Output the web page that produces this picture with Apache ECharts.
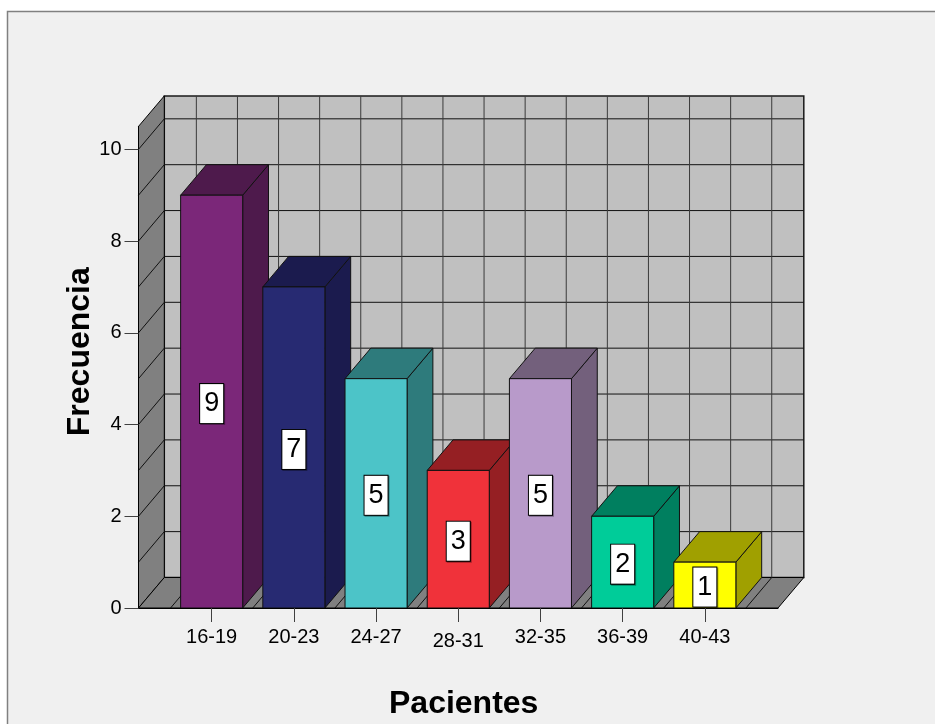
<!DOCTYPE html>
<html>
<head>
<meta charset="utf-8">
<script src="https://cdn.jsdelivr.net/npm/echarts@6/dist/echarts.min.js"></script>
<style>
  html, body { margin: 0; padding: 0; background: #ffffff; }
  #chart { width: 935px; height: 724px; }
</style>
</head>
<body>
<div id="chart"></div>
<script>
// Age groups of the patients and how many fall in each one
const categories = ['16-19', '20-23', '24-27', '28-31', '32-35', '36-39', '40-43'];
const frequencies = [9, 7, 5, 3, 5, 2, 1];
const yTickValues = [0, 2, 4, 6, 8, 10];

// Face colours of each bar: front face, and the darker top / side faces
const frontColors = ['#7B2779', '#272A72', '#4CC4C8', '#F0323A', '#B89ACA', '#00CC99', '#FFFF00'];
const shadeColors = ['#4E1A4C', '#1B1B4E', '#2E7B7C', '#951F23', '#73607C', '#007F5F', '#A0A000'];

// Axis extents and the oblique projection used for the 3D look
const X_MIN = -0.89, X_MAX = 6.89, Y_MAX = 10.5;
const DEPTH_X = 25.8, DEPTH_Y = -30.5;
const BAR_WIDTH = 0.755;
const FONT = '"Liberation Sans", Arial, Helvetica, sans-serif';

const back = pt => [pt[0] + DEPTH_X, pt[1] + DEPTH_Y];
const line = (a, b, color) => ({
  type: 'line',
  shape: { x1: a[0], y1: a[1], x2: b[0], y2: b[1] },
  style: { stroke: color, lineWidth: 1 }
});

// Back wall, left wall and floor with their grid lines
function renderWalls(params, api) {
  const p = (x, y) => api.coord([x, y]);
  const f00 = p(X_MIN, 0), f10 = p(X_MAX, 0);
  const f01 = p(X_MIN, Y_MAX), f11 = p(X_MAX, Y_MAX);
  const children = [];
  children.push({
    type: 'polygon',
    shape: { points: [back(f00), back(f10), back(f11), back(f01)] },
    style: { fill: '#C0C0C0', stroke: '#1a1a1a', lineWidth: 1.5 }
  });
  children.push({
    type: 'polygon',
    shape: { points: [f00, back(f00), back(f01), f01] },
    style: { fill: '#808080', stroke: '#000', lineWidth: 1 }
  });
  children.push({
    type: 'polygon',
    shape: { points: [f00, f10, back(f10), back(f00)] },
    style: { fill: '#808080', stroke: '#000', lineWidth: 1 }
  });
  // value grid: horizontal on the back wall, diagonal on the left wall
  for (let v = 1; v <= Math.floor(Y_MAX); v++) {
    const a = p(X_MIN, v), b = p(X_MAX, v);
    children.push(line(back(a), back(b), '#111'));
    children.push(line(a, back(a), '#111'));
  }
  // category grid: vertical on the back wall, diagonal on the floor
  for (let k = 0; k <= 2 * categories.length; k++) {
    const x = -0.5 + k / 2;
    const a = p(x, 0), t = p(x, Y_MAX);
    children.push(line(back(a), back(t), '#3a3a3a'));
    children.push(line(a, back(a), '#111'));
  }
  return { type: 'group', children };
}

// One box per category: front face, top face, side face and its value tag
function renderBar(params, api) {
  const i = api.value(0), v = api.value(1);
  const base = api.coord([i, 0]);
  const top = api.coord([i, v]);
  const half = api.size([BAR_WIDTH, 0])[0] / 2;
  const xl = base[0] - half, xr = base[0] + half;
  const yb = base[1], yt = top[1];
  const edge = { stroke: '#111', lineWidth: 1 };
  const mid = api.coord([i, v / 2]);
  return {
    type: 'group',
    children: [
      {
        type: 'polygon',
        shape: { points: [[xr, yb], back([xr, yb]), back([xr, yt]), [xr, yt]] },
        style: Object.assign({ fill: shadeColors[i] }, edge)
      },
      {
        type: 'polygon',
        shape: { points: [[xl, yt], [xr, yt], back([xr, yt]), back([xl, yt])] },
        style: Object.assign({ fill: shadeColors[i] }, edge)
      },
      {
        type: 'rect',
        shape: { x: xl, y: yt, width: xr - xl, height: yb - yt },
        style: Object.assign({ fill: frontColors[i] }, edge)
      },
      {
        type: 'text',
        x: mid[0],
        y: mid[1] + 2,
        style: {
          text: String(v),
          font: '27px ' + FONT,
          fill: '#000',
          align: 'center',
          verticalAlign: 'middle',
          lineHeight: 31,
          backgroundColor: '#ffffff',
          borderColor: '#000',
          borderWidth: 1,
          padding: [4, 4, 4, 4],
          shadowColor: 'rgba(0,0,0,0.35)',
          shadowOffsetX: 1,
          shadowOffsetY: 1
        }
      }
    ]
  };
}

const chart = echarts.init(document.getElementById('chart'), null, { renderer: 'canvas' });

const categoryIndexes = categories.map((_, i) => i);

chart.setOption({
  backgroundColor: '#ffffff',
  animation: false,
  grid: { left: 138.5, right: 157, top: 126.4, bottom: 116 },
  xAxis: {
    type: 'value',
    min: X_MIN,
    max: X_MAX,
    z: 5,
    axisLine: { show: true, onZero: false, lineStyle: { color: '#000', width: 1 } },
    axisTick: {
      show: true,
      customValues: categoryIndexes,
      length: 14,
      lineStyle: { color: '#404040' }
    },
    axisLabel: {
      customValues: categoryIndexes,
      formatter: v => {
        const name = categories[Math.round(v)];
        return name === '28-31' ? '{low|' + name + '}' : name;
      },
      margin: 19,
      fontSize: 20,
      fontFamily: FONT,
      color: '#000',
      rich: { low: { fontSize: 20, fontFamily: FONT, color: '#000', lineHeight: 28 } }
    },
    splitLine: { show: false }
  },
  yAxis: {
    type: 'value',
    min: 0,
    max: Y_MAX,
    z: 5,
    axisLine: { show: true, onZero: false, lineStyle: { color: '#000', width: 1 } },
    axisTick: {
      show: true,
      customValues: yTickValues,
      length: 14,
      lineStyle: { color: '#404040' }
    },
    axisLabel: {
      customValues: yTickValues,
      margin: 17,
      fontSize: 20,
      fontFamily: FONT,
      color: '#000'
    },
    splitLine: { show: false }
  },
  graphic: [
    {
      type: 'rect',
      z: -10,
      silent: true,
      shape: { x: 7.5, y: 11.5, width: 1000, height: 1000 },
      style: { fill: '#F0F0F0', stroke: '#808080', lineWidth: 1.5 }
    },
    {
      type: 'text',
      z: 10,
      x: 80.5,
      y: 351.7,
      rotation: Math.PI / 2,
      style: {
        text: 'Frecuencia',
        font: 'bold 32px ' + FONT,
        fill: '#000',
        align: 'center',
        verticalAlign: 'middle'
      }
    },
    {
      type: 'text',
      z: 10,
      x: 463.7,
      y: 704.5,
      style: {
        text: 'Pacientes',
        font: 'bold 32px ' + FONT,
        fill: '#000',
        align: 'center',
        verticalAlign: 'middle'
      }
    }
  ],
  series: [
    {
      type: 'custom',
      silent: true,
      clip: false,
      z: 1,
      renderItem: renderWalls,
      data: [[0, 0]],
      encode: { x: 0, y: 1 }
    },
    {
      type: 'custom',
      clip: false,
      z: 2,
      renderItem: renderBar,
      data: frequencies.map((v, i) => [i, v]),
      encode: { x: 0, y: 1 }
    }
  ]
});
</script>
</body>
</html>
